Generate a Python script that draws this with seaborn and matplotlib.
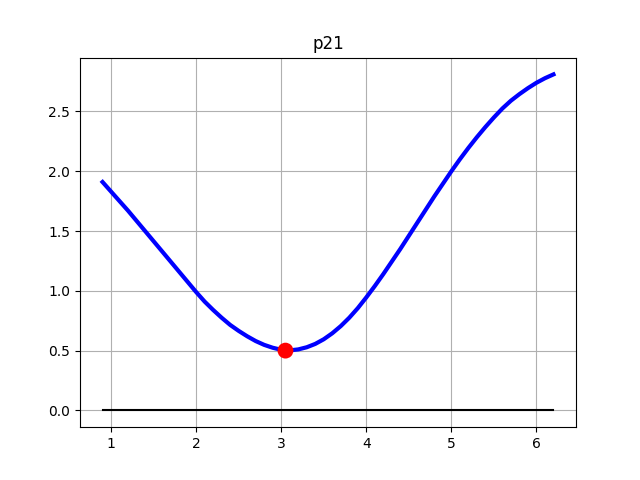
import seaborn as sns
import matplotlib
matplotlib.use('Agg')
import matplotlib.pyplot as plt

# curve values
x_vals = [0.9, 1.0, 1.1, 1.2, 1.3, 1.4, 1.5, 1.6, 1.7, 1.8, 1.9, 2.0, 2.1, 2.2,
          2.3, 2.4, 2.5, 2.6, 2.7, 2.8, 2.9, 3.0, 3.05, 3.1, 3.2, 3.3, 3.4, 3.5,
          3.6, 3.7, 3.8, 3.9, 4.0, 4.1, 4.2, 4.3, 4.4, 4.5, 4.6, 4.7, 4.8, 4.9,
          5.0, 5.1, 5.2, 5.3, 5.4, 5.5, 5.6, 5.7, 5.8, 5.9, 6.0, 6.1, 6.2]
y_vals = [1.91, 1.83, 1.75, 1.67, 1.585, 1.50, 1.415, 1.33, 1.245, 1.16, 1.075,
          0.99, 0.91, 0.84, 0.775, 0.715, 0.665, 0.62, 0.58, 0.548, 0.524, 0.507,
          0.50, 0.502, 0.51, 0.528, 0.556, 0.595, 0.645, 0.705, 0.775, 0.855,
          0.945, 1.04, 1.14, 1.245, 1.35, 1.46, 1.57, 1.68, 1.79, 1.895, 2.0,
          2.10, 2.195, 2.285, 2.37, 2.45, 2.525, 2.59, 2.645, 2.695, 2.74, 2.778,
          2.81]

min_x = [3.05]
min_y = [0.50]

base_x = [0.9, 6.2]
base_y = [0.0, 0.0]

plt.figure(figsize=(6.4, 4.8), dpi=100)
sns.lineplot(x=base_x, y=base_y, color='black', linewidth=1.5)
sns.lineplot(x=x_vals, y=y_vals, color='blue', linewidth=3)
sns.scatterplot(x=min_x, y=min_y, color='red', s=130, edgecolor='none', zorder=5)
plt.title('p21')
plt.grid(True)
plt.savefig('out.png')
